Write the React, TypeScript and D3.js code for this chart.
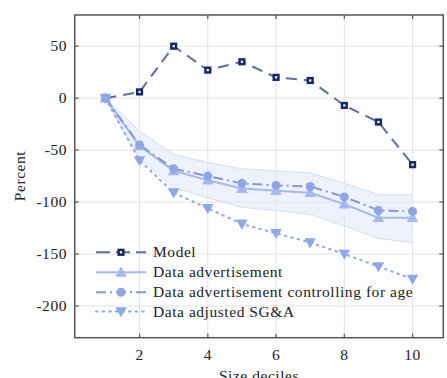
import React from "react";
import * as d3 from "d3";

const deciles = [1, 2, 3, 4, 5, 6, 7, 8, 9, 10];
const modelValues = [0, 6, 50, 27, 35, 20, 17, -7, -23, -64];
const adValues = [0, -46, -70, -79, -87, -89, -91, -102, -115, -115];
const adAgeValues = [0, -45, -68, -75, -82, -84, -85, -95, -108, -109];
const sgaValues = [0, -60, -91, -106, -121, -130, -139, -150, -162, -174];
const bandUpper = [0, -32, -54, -62, -68, -70, -72, -82, -93, -93];
const bandLower = [0, -58, -86, -96, -105, -108, -112, -123, -135, -139];
const xTicks = [2, 4, 6, 8, 10];
const yTicks = [50, 0, -50, -100, -150, -200];
const legendLabels = [
  "Model",
  "Data advertisement",
  "Data advertisement controlling for age",
  "Data adjusted SG&A",
];

const FONT = "'Liberation Serif', 'Times New Roman', serif";
const textStyle = { fontFamily: FONT, letterSpacing: "0.55px" } as React.CSSProperties;
const FS = 15.5;

const left = 74.7, right = 443.3, top = 15, bottom = 337.7;
const x = d3.scaleLinear().domain([0.1, 10.9]).range([left, right]);
const y = d3.scaleLinear().domain([-230.5, 80]).range([bottom, top]);

const cModelLine = "#5d6d9e";
const cModelMarker = "#14286a";
const cAd = "#a5b9ee";
const cAge = "#8499d8";
const cAgeMarker = "#8ea5e6";
const cSga = "#8ea8ec";

function Square({ cx, cy }: { cx: number; cy: number }) {
  return (
    <g>
      <rect x={cx - 3.6} y={cy - 3.6} width={7.2} height={7.2} fill={cModelMarker} />
      <rect x={cx - 1.1} y={cy - 1.1} width={2.2} height={2.2} fill="#ffffff" />
    </g>
  );
}
function TriUp({ cx, cy, color }: { cx: number; cy: number; color: string }) {
  const s = 5.8;
  return <path d={`M${cx},${cy - s} L${cx + s},${cy + s * 0.75} L${cx - s},${cy + s * 0.75} Z`} fill={color} />;
}
function TriDown({ cx, cy, color }: { cx: number; cy: number; color: string }) {
  const s = 5.8;
  return <path d={`M${cx},${cy + s} L${cx + s},${cy - s * 0.75} L${cx - s},${cy - s * 0.75} Z`} fill={color} />;
}

export default function App() {
  const line = d3
    .line<number>()
    .x((_, i) => x(deciles[i]))
    .y((d) => y(d));
  const area = d3
    .area<number>()
    .x((_, i) => x(deciles[i]))
    .y0((_, i) => y(bandLower[i]))
    .y1((d) => y(d));

  const legX0 = 96, legX1 = 146, legMid = 121, legText = 153;
  const legY = [252.3, 272.3, 292.3, 311.5];

  return (
    <svg
      width={447}
      height={378}
      style={{ position: "absolute", left: 0, top: 0, fontFamily: FONT }}
    >
      <rect x={0} y={0} width={447} height={378} fill="#fff" />
      {/* grid */}
      {xTicks.map((t) => (
        <line key={"gx" + t} x1={x(t)} x2={x(t)} y1={top} y2={bottom} stroke="#e3e3e3" strokeWidth={1} />
      ))}
      {yTicks.map((t) => (
        <line key={"gy" + t} x1={left} x2={right} y1={y(t)} y2={y(t)} stroke="#e3e3e3" strokeWidth={1} />
      ))}

      {/* band */}
      <path d={area(bandUpper) || ""} fill="#e3eafb" fillOpacity={0.6} />
      <path d={line(bandUpper) || ""} fill="none" stroke="#d3def8" strokeWidth={1} />
      <path d={line(bandLower) || ""} fill="none" stroke="#d3def8" strokeWidth={1} />

      {/* model */}
      <path d={line(modelValues) || ""} fill="none" stroke={cModelLine} strokeWidth={2} strokeDasharray="11,7" />
      {modelValues.map((v, i) => (
        <Square key={"m" + i} cx={x(deciles[i])} cy={y(v)} />
      ))}

      {/* data advertisement */}
      <path d={line(adValues) || ""} fill="none" stroke={cAd} strokeWidth={2} />
      {adValues.map((v, i) => (
        <TriUp key={"a" + i} cx={x(deciles[i])} cy={y(v)} color={cAd} />
      ))}

      {/* controlling for age */}
      <path d={line(adAgeValues) || ""} fill="none" stroke={cAge} strokeWidth={2} strokeDasharray="10,4,2,4" />
      {adAgeValues.map((v, i) => (
        <circle key={"c" + i} cx={x(deciles[i])} cy={y(v)} r={4.5} fill={cAgeMarker} />
      ))}

      {/* SG&A */}
      <path d={line(sgaValues) || ""} fill="none" stroke={cSga} strokeWidth={2} strokeDasharray="1.6,5" strokeLinecap="round" />
      {sgaValues.map((v, i) => (
        <TriDown key={"s" + i} cx={x(deciles[i])} cy={y(v)} color={cSga} />
      ))}

      {/* axes box */}
      <rect x={left} y={top} width={right - left} height={bottom - top} fill="none" stroke="#555" strokeWidth={1.5} />
      {xTicks.map((t) => (
        <g key={"tx" + t}>
          <line x1={x(t)} x2={x(t)} y1={bottom} y2={bottom - 4} stroke="#555" strokeWidth={1.2} />
          <line x1={x(t)} x2={x(t)} y1={top} y2={top + 4} stroke="#555" strokeWidth={1.2} />
          <text x={x(t)} y={360} textAnchor="middle" fontSize={FS} fill="#222" style={textStyle}>
            {t}
          </text>
        </g>
      ))}
      {yTicks.map((t) => (
        <g key={"ty" + t}>
          <line x1={left} x2={left + 4} y1={y(t)} y2={y(t)} stroke="#555" strokeWidth={1.2} />
          <line x1={right} x2={right - 4} y1={y(t)} y2={y(t)} stroke="#555" strokeWidth={1.2} />
          <text x={67} y={y(t) + 5} textAnchor="end" fontSize={FS} fill="#222" style={textStyle}>
            {t}
          </text>
        </g>
      ))}

      {/* axis labels */}
      <text x={259} y={381} textAnchor="middle" fontSize={FS} fill="#222" style={textStyle}>
        Size deciles
      </text>
      <text
        transform={`translate(25,176) rotate(-90)`}
        textAnchor="middle"
        fontSize={FS}
        fill="#222"
        style={textStyle}
      >
        Percent
      </text>

      {/* legend */}
      <g>
        <line x1={legX0} x2={legX1} y1={legY[0]} y2={legY[0]} stroke={cModelLine} strokeWidth={2} strokeDasharray="14,6" />
        <Square cx={legMid} cy={legY[0]} />
        <line x1={legX0} x2={legX1} y1={legY[1]} y2={legY[1]} stroke={cAd} strokeWidth={2} />
        <TriUp cx={legMid} cy={legY[1]} color={cAd} />
        <line x1={legX0} x2={legX1} y1={legY[2]} y2={legY[2]} stroke={cAge} strokeWidth={2} strokeDasharray="10,4,2,4" />
        <circle cx={legMid} cy={legY[2]} r={4.5} fill={cAgeMarker} />
        <line x1={legX0} x2={legX1} y1={legY[3]} y2={legY[3]} stroke={cSga} strokeWidth={2} strokeDasharray="1.6,5" strokeLinecap="round" />
        <TriDown cx={legMid} cy={legY[3]} color={cSga} />
        {legendLabels.map((l, i) => (
          <text key={l} x={legText} y={legY[i] + 5} fontSize={FS} fill="#222" style={textStyle}>
            {l}
          </text>
        ))}
      </g>
    </svg>
  );
}
